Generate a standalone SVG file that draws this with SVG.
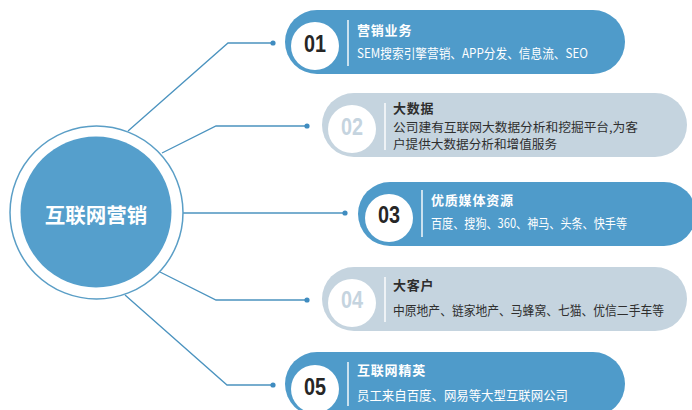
<svg xmlns="http://www.w3.org/2000/svg" width="692" height="410" viewBox="0 0 692 410">
<style>
.pill-b{fill:#4f9bca}
.pill-g{fill:#c5d4df}
.disc{fill:#ffffff}
.num{font-family:"Liberation Sans","Noto Sans CJK SC",sans-serif;font-weight:bold;font-size:24px;text-anchor:middle}
.num-d{fill:#262626}
.num-g{fill:#c5d4df}
.div{stroke:#ffffff;stroke-width:1.4}
.t{font-family:"Noto Sans CJK SC",sans-serif;font-size:13px;font-weight:bold}
.s{font-family:"Noto Sans CJK SC",sans-serif;font-size:12.6px}
.s2{font-family:"Noto Sans CJK SC",sans-serif;font-size:12.2px}
.w{fill:#ffffff}
.k{fill:#2e2e2e}
.con{fill:none;stroke:#4b93bf;stroke-width:1.3}
.dot{fill:#3f8cc0}
</style>
<rect width="692" height="410" fill="#ffffff"/>
<g id="connectors">
<polyline class="con" points="128,131 228,43 273,43"/>
<polyline class="con" points="162,153 216,126 307,126"/>
<polyline class="con" points="183,213 345,213"/>
<polyline class="con" points="160,272 216,300 307,300"/>
<polyline class="con" points="125,295 227,385 273,385"/>
<circle class="dot" cx="273" cy="43" r="2.6"/>
<circle class="dot" cx="307" cy="126" r="2.6"/>
<circle class="dot" cx="345" cy="213" r="2.6"/>
<circle class="dot" cx="307" cy="300" r="2.6"/>
<circle class="dot" cx="273" cy="385" r="2.6"/>
</g>
<g id="center">
<circle cx="96.5" cy="212.5" r="86.5" fill="#ffffff" stroke="#5a9ec6" stroke-width="1.5"/>
<circle cx="96" cy="212" r="75.5" fill="#559fcc"/>
<text x="96" y="223" text-anchor="middle" font-family="Noto Sans CJK SC, sans-serif" font-weight="bold" font-size="20.5" fill="#ffffff">互联网营销</text>
</g>
<g id="node1">
<rect class="pill-b" x="285" y="10" width="340" height="64" rx="32"/>
<circle class="disc" cx="315" cy="46" r="24"/>
<text class="num num-d" x="315" y="52" textLength="22" lengthAdjust="spacingAndGlyphs">01</text>
<line class="div" x1="348" y1="20" x2="348" y2="66"/>
<text class="t w" x="357" y="35" letter-spacing="0.8">营销业务</text>
<text class="s w" x="357" y="58" textLength="231" lengthAdjust="spacingAndGlyphs">SEM搜索引擎营销、APP分发、信息流、SEO</text>
</g>
<g id="node2">
<rect class="pill-g" x="322" y="93" width="365" height="64" rx="32"/>
<circle class="disc" cx="352" cy="129" r="24"/>
<text class="num num-g" x="352" y="135" textLength="22" lengthAdjust="spacingAndGlyphs">02</text>
<line class="div" x1="385" y1="103" x2="385" y2="150"/>
<text class="t k" x="393" y="113" letter-spacing="0.8">大数据</text>
<text class="s2 k" x="393" y="131.5" textLength="245" lengthAdjust="spacingAndGlyphs">公司建有互联网大数据分析和挖掘平台,为客</text>
<text class="s2 k" x="393" y="148.5" textLength="164" lengthAdjust="spacingAndGlyphs">户提供大数据分析和增值服务</text>
</g>
<g id="node3">
<rect class="pill-b" x="358" y="182" width="338" height="64" rx="32"/>
<circle class="disc" cx="389" cy="218" r="24"/>
<text class="num num-d" x="389" y="223" textLength="22" lengthAdjust="spacingAndGlyphs">03</text>
<line class="div" x1="422" y1="190" x2="422" y2="237"/>
<text class="t w" x="431" y="205" letter-spacing="0.8">优质媒体资源</text>
<text class="s w" x="431" y="228" textLength="196" lengthAdjust="spacingAndGlyphs">百度、搜狗、360、神马、头条、快手等</text>
</g>
<g id="node4">
<rect class="pill-g" x="322" y="267" width="365" height="64" rx="32"/>
<circle class="disc" cx="352" cy="303" r="24"/>
<text class="num num-g" x="352" y="308" textLength="22" lengthAdjust="spacingAndGlyphs">04</text>
<line class="div" x1="385" y1="277" x2="385" y2="322"/>
<text class="t k" x="393" y="290" letter-spacing="0.8">大客户</text>
<text class="s k" x="393" y="315" textLength="271" lengthAdjust="spacingAndGlyphs">中原地产、链家地产、马蜂窝、七猫、优信二手车等</text>
</g>
<g id="node5">
<rect class="pill-b" x="285" y="352" width="340" height="64" rx="32"/>
<circle class="disc" cx="315" cy="389" r="24"/>
<text class="num num-d" x="315" y="395" textLength="22" lengthAdjust="spacingAndGlyphs">05</text>
<line class="div" x1="348" y1="362" x2="348" y2="406"/>
<text class="t w" x="357" y="375" letter-spacing="0.8">互联网精英</text>
<text class="s w" x="357" y="400" textLength="211" lengthAdjust="spacingAndGlyphs">员工来自百度、网易等大型互联网公司</text>
</g>
</svg>
